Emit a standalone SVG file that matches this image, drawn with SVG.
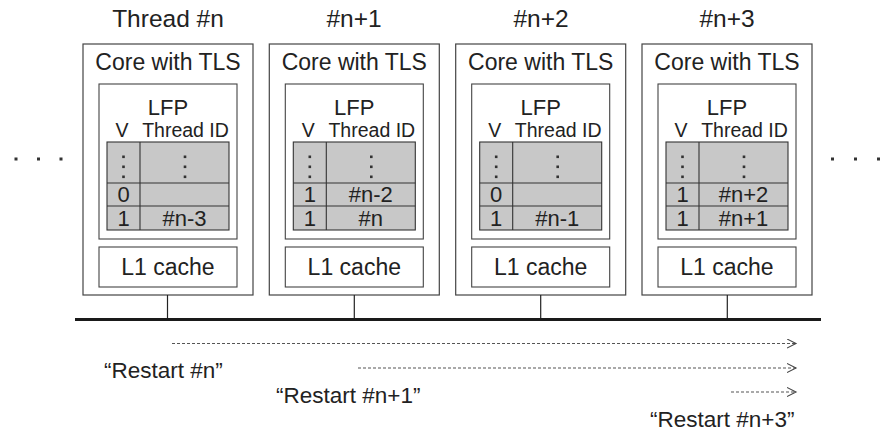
<svg xmlns="http://www.w3.org/2000/svg" width="883" height="432" viewBox="0 0 883 432">
  <defs>
    <style>
      text { font-family: "Liberation Sans", Arial, sans-serif; fill: #222; }
      .title { font-size: 24.5px; text-anchor: middle; }
      .core { font-size: 23px; text-anchor: middle; }
      .lfp { font-size: 22px; text-anchor: middle; }
      .hdr { font-size: 19.5px; text-anchor: middle; }
      .cell { font-size: 22px; text-anchor: middle; }
      .lbl { font-size: 22.5px; }
      .outer { fill: #fff; stroke: #444; stroke-width: 1.2; }
      .inner { fill: #fff; stroke: #444; stroke-width: 1.1; }
      .tbl { fill: #c8c8c8; stroke: #333; stroke-width: 1.1; }
      .grid { stroke: #333; stroke-width: 1.1; fill: none; }
      .dot { fill: #333; }
      .tick { stroke: #222; stroke-width: 1.2; }
      .bus { stroke: #1a1a1a; stroke-width: 3; }
      .restart { stroke: #555; stroke-width: 1.1; stroke-dasharray: 3 2; fill: none; }
    </style>
    <marker id="chev" markerWidth="12" markerHeight="12" refX="9" refY="5" orient="auto" markerUnits="userSpaceOnUse">
      <path d="M0,0.5 L9,5 L0,9.5" fill="none" stroke="#444" stroke-width="1.1"/>
    </marker>
    <!-- one core: outer box, LFP table and L1 cache -->
    <g id="coreShell">
      <rect class="outer" x="0" y="44" width="170" height="251"/>
      <text class="core" x="85" y="70">Core with TLS</text>
      <rect class="inner" x="16" y="84" width="138" height="155"/>
      <text class="lfp" x="85" y="115">LFP</text>
      <text class="hdr" x="39" y="137">V</text>
      <text class="hdr" x="102.5" y="137">Thread ID</text>
      <rect class="tbl" x="24" y="142" width="122" height="88"/>
      <path class="grid" d="M57,142 V230 M24,183 H146 M24,206 H146"/>
      <rect class="dot" x="39.2" y="155.5" width="2.6" height="2.6"/>
      <rect class="dot" x="39.2" y="165.5" width="2.6" height="2.6"/>
      <rect class="dot" x="39.2" y="175.5" width="2.6" height="2.6"/>
      <rect class="dot" x="100.7" y="155.5" width="2.6" height="2.6"/>
      <rect class="dot" x="100.7" y="165.5" width="2.6" height="2.6"/>
      <rect class="dot" x="100.7" y="175.5" width="2.6" height="2.6"/>
      <rect class="inner" x="16" y="247" width="138" height="40"/>
      <text class="core" x="85" y="275">L1 cache</text>
    </g>
  </defs>

  <!-- thread labels -->
  <text class="title" x="168" y="27">Thread #n</text>
  <text class="title" x="354" y="27">#n+1</text>
  <text class="title" x="541" y="27">#n+2</text>
  <text class="title" x="727" y="27">#n+3</text>

  <!-- continuation dots -->
  <g id="moreLeft">
    <rect class="dot" x="14.5" y="157.5" width="3" height="3"/>
    <rect class="dot" x="37" y="157.5" width="3" height="3"/>
    <rect class="dot" x="59.5" y="157.5" width="3" height="3"/>
  </g>
  <g id="moreRight">
    <rect class="dot" x="831" y="157.5" width="3" height="3"/>
    <rect class="dot" x="854" y="157.5" width="3" height="3"/>
    <rect class="dot" x="877" y="157.5" width="3" height="3"/>
  </g>

  <g id="core1" transform="translate(83,0)">
    <use href="#coreShell"/>
    <text class="cell" x="40.5" y="202">0</text>
    <text class="cell" x="40.5" y="225.5">1</text>
    <text class="cell" x="101.5" y="225.5">#n-3</text>
  </g>
  <g id="core2" transform="translate(269.3,0)">
    <use href="#coreShell"/>
    <text class="cell" x="40.5" y="202">1</text>
    <text class="cell" x="101.5" y="202">#n-2</text>
    <text class="cell" x="40.5" y="225.5">1</text>
    <text class="cell" x="101.5" y="225.5">#n</text>
  </g>
  <g id="core3" transform="translate(455.7,0)">
    <use href="#coreShell"/>
    <text class="cell" x="40.5" y="202">0</text>
    <text class="cell" x="40.5" y="225.5">1</text>
    <text class="cell" x="101.5" y="225.5">#n-1</text>
  </g>
  <g id="core4" transform="translate(642,0)">
    <use href="#coreShell"/>
    <text class="cell" x="40.5" y="202">1</text>
    <text class="cell" x="101.5" y="202">#n+2</text>
    <text class="cell" x="40.5" y="225.5">1</text>
    <text class="cell" x="101.5" y="225.5">#n+1</text>
  </g>

  <!-- shared bus and restart broadcasts -->
  <g id="connectors">
    <line class="tick" x1="167.5" y1="295" x2="167.5" y2="319"/>
    <line class="tick" x1="354.3" y1="295" x2="354.3" y2="319"/>
    <line class="tick" x1="540.7" y1="295" x2="540.7" y2="319"/>
    <line class="tick" x1="727.3" y1="295" x2="727.3" y2="319"/>
    <line class="bus" x1="75" y1="319.5" x2="821" y2="319.5"/>
    <line class="restart" x1="172" y1="343.5" x2="796" y2="343.5" marker-end="url(#chev)"/>
    <line class="restart" x1="358" y1="368" x2="796" y2="368" marker-end="url(#chev)"/>
    <line class="restart" x1="731" y1="392" x2="796" y2="392" marker-end="url(#chev)"/>
  </g>

  <text class="lbl" x="104" y="378">“Restart #n”</text>
  <text class="lbl" x="276" y="403">“Restart #n+1”</text>
  <text class="lbl" x="650" y="427">“Restart #n+3”</text>
</svg>
